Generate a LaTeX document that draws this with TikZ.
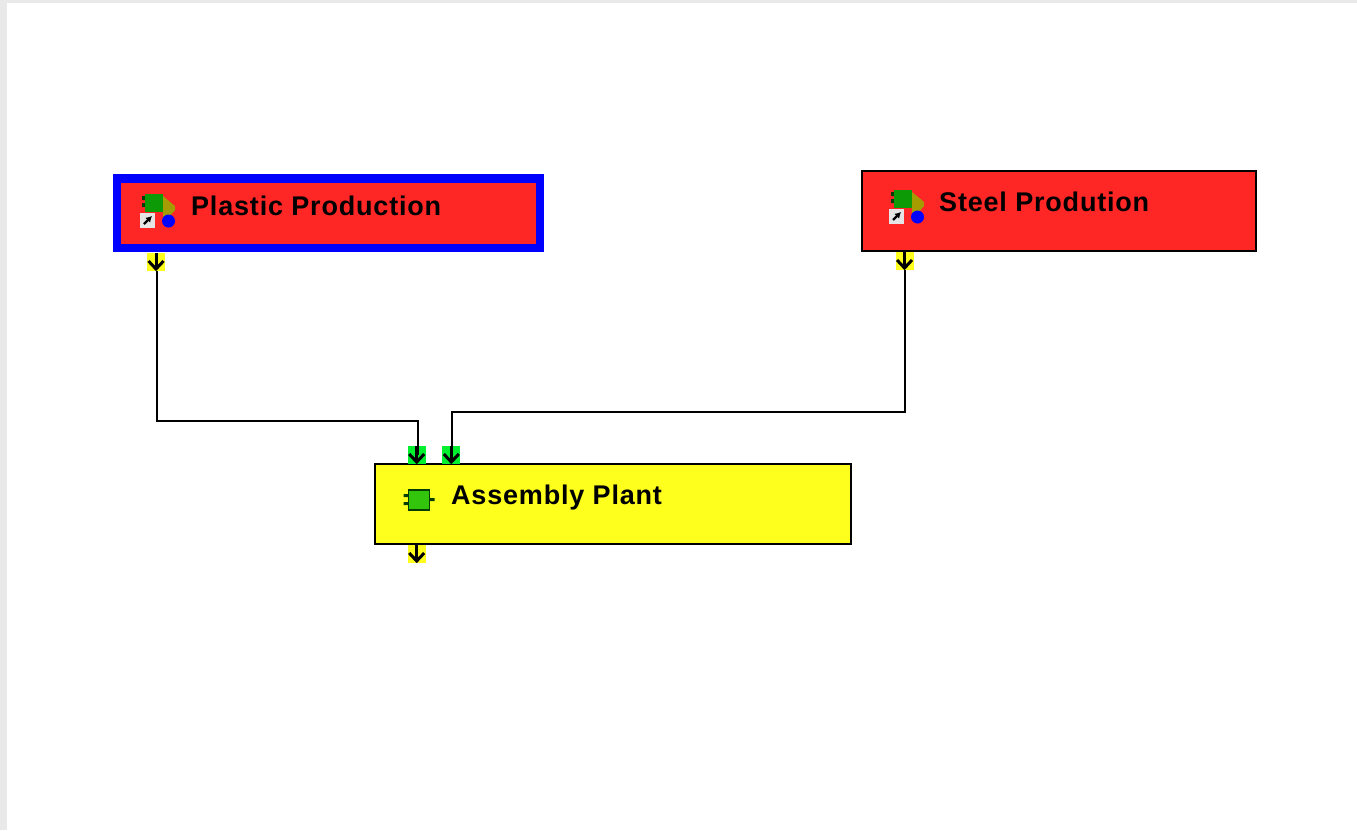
\documentclass[tikz,border=0pt]{standalone}
\usepackage{fontspec}
\setmainfont[LetterSpace=3]{Liberation Sans}
\usepackage{xcolor}
\usetikzlibrary{arrows.meta,positioning}
\definecolor{procred}{HTML}{FF2626}
\definecolor{procyellow}{HTML}{FFFF1E}
\definecolor{portgreen}{HTML}{00F030}
\definecolor{selblue}{HTML}{0000FF}
\definecolor{chipgreen}{HTML}{0C9A06}
\definecolor{chiplime}{HTML}{33C40C}
\definecolor{pagegrey}{HTML}{E9E9E9}
\newcommand{\chipIcon}[2]{%
  \begin{scope}[shift={(#1,#2)}]
    \fill[black!60!chipgreen] (-13,-9) rectangle (-10,-5) (-13,-2) rectangle (-10,2);
    \fill[olive!80!yellow] (8,-9) -- (20,1) -- (20,5) -- (14,12) -- (8,12) -- cycle;
    \fill[chipgreen] (-10,-11) rectangle (8,7);
    \fill[white!90!black] (-15,8) rectangle (0,23);
    \draw[black, line width=2.4pt, -{Latex[length=6pt,width=7pt]}] (-11,19) -- (-3,11);
    \fill[selblue] (13.5,16) circle (6.5);
  \end{scope}}
\begin{document}
\begin{tikzpicture}[x=1pt, y=-1pt, >={Straight Barb[length=8pt,width=15pt]}, every node/.style={font=\fontsize{27}{30}\selectfont\bfseries},
  procbox/.style={draw, line width=2pt, minimum width=#1, minimum height=80pt, inner sep=0pt},
  boxlabel/.style={anchor=base west, inner sep=0pt},
  portnode/.style={fill=#1, minimum width=18pt, minimum height=18pt, inner sep=0pt},
  wire/.style={draw, line width=2pt},
  tipwire/.style={wire, ->, line width=3pt}]
\fill[pagegrey] (0,0) rectangle (1357,830);
\fill[white] (7,3) rectangle (1357,830);
\useasboundingbox (0,0) rectangle (1357,830);
% process boxes
\node[procbox=423pt, minimum height=69.5pt, fill=procred, draw=selblue, line width=8.5pt] (plastic) at (328.5,213) {};
\node[procbox=394pt, fill=procred] (steel) at (1059,211) {};
\node[procbox=476pt, fill=procyellow] (assembly) at (613,504) {};
\node[boxlabel] (plasticText) at (191,215) {Plastic Production};
\node[boxlabel] (steelText) at (939,211) {Steel Prodution};
\node[boxlabel] (assemblyText) at (451,504) {Assembly Plant};
% ports
\node[portnode=procyellow] (plasticOut) at (156,262) {};
\node[portnode=procyellow] (steelOut) at (904.5,261) {};
\node[portnode=portgreen] (assemblyInA) at (416.7,455) {};
\node[portnode=portgreen] (assemblyInB) at (451.3,455) {};
\node[portnode=procyellow] (assemblyOut) at (416.7,554) {};
\coordinate (plasticBend) at (157,421);
\coordinate (steelBend) at (905,412);
\coordinate (plasticDrop) at (417.5,455);
\coordinate (steelDrop) at (452,455);
% connectors
\draw[wire] (plasticOut.south -| plasticBend) -- (plasticBend) -| (plasticDrop);
\draw[wire] (steelOut.south -| steelBend) -- (steelBend) -| (steelDrop);
\draw[tipwire] (assemblyInA.north) -- (assemblyInA.south);
\draw[tipwire] (assemblyInB.north) -- (assemblyInB.south);
\draw[tipwire] (plasticOut.north) -- (plasticOut.south);
\draw[tipwire] (steelOut.north) -- (steelOut.south);
\draw[tipwire] (assemblyOut.north) -- (assemblyOut.south);
% icons
\chipIcon{155}{205}
\chipIcon{904}{201}
\fill[black!60!chipgreen] (403.5,494) rectangle (408,497) (403.5,502) rectangle (408,505) (430,498) rectangle (434.5,501);
\fill[chiplime, draw=black!60!chipgreen, line width=1.5pt] (408.5,490) rectangle (429.5,510);
\end{tikzpicture}
\end{document}
